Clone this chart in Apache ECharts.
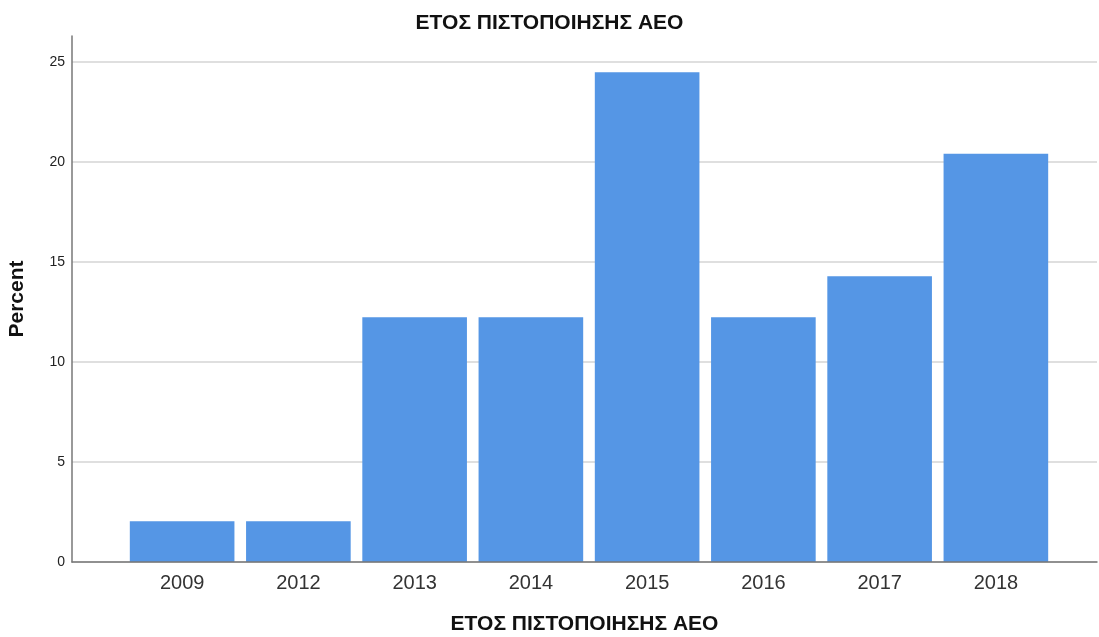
<!DOCTYPE html>
<html>
<head>
<meta charset="utf-8">
<script src="https://cdn.jsdelivr.net/npm/echarts@6/dist/echarts.min.js"></script>
<style>
html, body { margin: 0; padding: 0; background: #fff; }
#chart { width: 1099px; height: 637px; }
</style>
</head>
<body>
<div id="chart"></div>
<script>
// data
const years = ['2009', '2012', '2013', '2014', '2015', '2016', '2017', '2018'];
const percent = [2.04, 2.04, 12.24, 12.24, 24.49, 12.24, 14.29, 20.41];
const yTicks = [0, 5, 10, 15, 20, 25];

const titleText = 'ΕΤΟΣ ΠΙΣΤΟΠΟΙΗΣΗΣ ΑΕΟ';
const font = 'Liberation Sans, Arial, sans-serif';
const yMax = 26.3;

const chart = echarts.init(document.getElementById('chart'));
chart.setOption({
  animation: false,
  title: {
    text: titleText,
    left: 'center',
    top: 8,
    textStyle: { fontFamily: font, fontSize: 21, fontWeight: 'bold', color: '#111' }
  },
  grid: [
    // frame: axis line, gridlines, tick labels
    { left: 72, right: 2, top: 36, bottom: 75, outerBoundsMode: 'none', containLabel: false },
    // bars sit inside a narrower band
    { left: 124, right: 45, top: 36, bottom: 75, outerBoundsMode: 'none', containLabel: false }
  ],
  xAxis: [
    {
      gridIndex: 0,
      type: 'category',
      data: [''],
      axisLine: { lineStyle: { color: '#777', width: 1.5 } },
      axisTick: { show: false },
      axisLabel: { show: false },
      name: titleText,
      nameLocation: 'middle',
      nameGap: 52,
      nameTextStyle: { fontFamily: font, fontSize: 21, fontWeight: 'bold', color: '#111' },
      z: 4
    },
    {
      gridIndex: 1,
      type: 'category',
      data: years,
      axisLine: { show: false },
      axisTick: { show: false },
      axisLabel: { fontFamily: font, fontSize: 20, color: '#333', margin: 11 }
    }
  ],
  yAxis: [
    {
      gridIndex: 0,
      type: 'value',
      min: 0,
      max: yMax,
      interval: 5,
      axisLine: { show: true, lineStyle: { color: '#777', width: 1.5 } },
      axisTick: { show: false },
      axisLabel: {
        fontFamily: font, fontSize: 14, color: '#222', margin: 7,
        showMaxLabel: false,
        formatter: v => yTicks.includes(v) ? String(v) : ''
      },
      splitLine: { showMaxLine: false, lineStyle: { color: '#d4d4d4', width: 1.5 } },
      name: 'Percent',
      nameLocation: 'middle',
      nameGap: 44,
      nameTextStyle: { fontFamily: font, fontSize: 21, fontWeight: 'bold', color: '#111' }
    },
    {
      gridIndex: 1,
      type: 'value',
      min: 0,
      max: yMax,
      show: false
    }
  ],
  series: [
    {
      type: 'bar',
      xAxisIndex: 1,
      yAxisIndex: 1,
      data: percent,
      barCategoryGap: '10%',
      itemStyle: { color: '#5596e5' },
      z: 3
    }
  ]
});
</script>
</body>
</html>
